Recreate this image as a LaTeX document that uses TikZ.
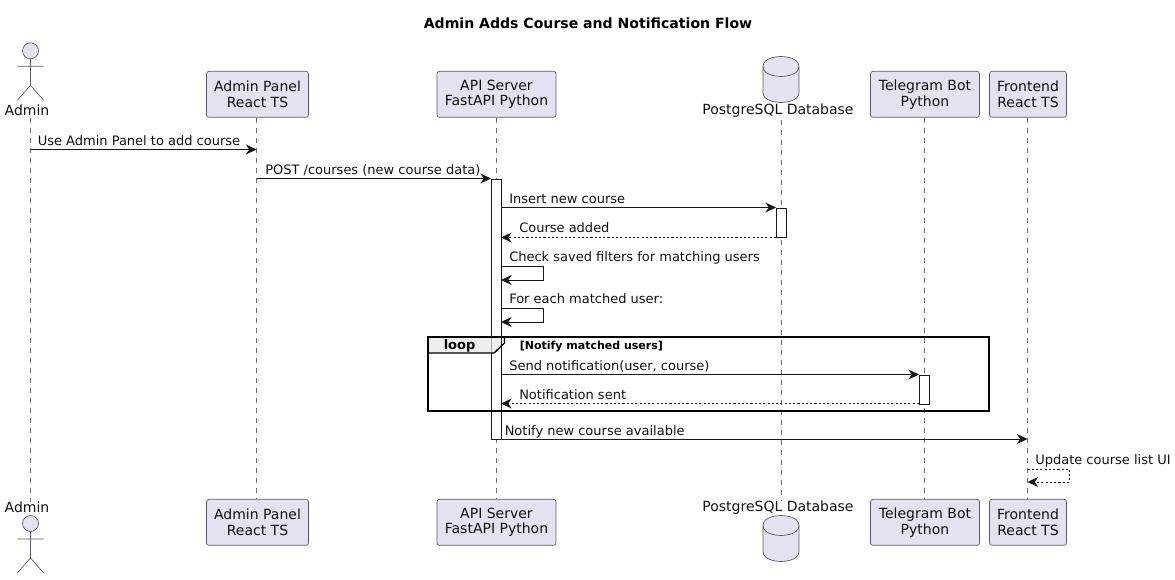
\documentclass[tikz,border=0pt]{standalone}
\usepackage{fontspec}
\setmainfont{DejaVu Sans}
\usetikzlibrary{arrows.meta}
\definecolor{pfill}{HTML}{E2E2F0}
\definecolor{pline}{HTML}{5B5B66}
\definecolor{lifec}{HTML}{6E6E78}
\definecolor{ptext}{HTML}{111111}
\definecolor{msgc}{HTML}{181818}
\definecolor{tabfill}{HTML}{EEEEEE}
\tikzset{
 x=0.75pt,y=-0.75pt,
 part/.style={draw=pline,fill=pfill,rounded corners=1.8pt,line width=0.5pt,minimum height=34.5pt,inner sep=0pt,align=center,font=\fontsize{10.5}{11.8}\selectfont,text=ptext,anchor=center},
 lbl/.style={font=\fontsize{9.75}{11.6}\selectfont,text=ptext,inner sep=0pt},
 actlbl/.style={font=\fontsize{10.5}{12}\selectfont,text=ptext,inner sep=0pt},
 msglbl/.style={lbl,anchor=base west},
 life/.style={draw=lifec,line width=0.5pt,dash pattern=on 3.75pt off 3.75pt},
 tipb/.style={-{Stealth[length=8pt,width=7.5pt,inset=2.6pt]}},
 msg/.style={tipb,draw=msgc,line width=0.75pt},
 rmsg/.style={tipb,draw=msgc,line width=0.6pt,dash pattern=on 1.6pt off 1.6pt},
 act/.style={draw=msgc,fill=white,line width=0.75pt},
 figshape/.style={draw=pline,fill=pfill,line width=0.5pt},
 frameb/.style={draw=black,line width=1.5pt},
}
\newcommand{\actorfig}[2]{% x, headY
 \draw[figshape] (#1,#2) circle[radius=6pt];
 \draw[draw=pline,line width=0.5pt] (#1,#2+8)--(#1,#2+34.5) (#1-13.2,#2+15.5)--(#1+13.2,#2+15.5) (#1-13.2,#2+49.5)--(#1,#2+34.5)--(#1+13.2,#2+49.5);
}
\newcommand{\dbfig}[2]{% x, top
 \draw[figshape] (#1-18,#2+10) .. controls (#1-18,#2) and (#1,#2) .. (#1,#2) .. controls (#1,#2) and (#1+18,#2) .. (#1+18,#2+10) -- (#1+18,#2+36) .. controls (#1+18,#2+46) and (#1,#2+46) .. (#1,#2+46) .. controls (#1,#2+46) and (#1-18,#2+46) .. (#1-18,#2+36) -- cycle;
 \draw[draw=pline,line width=0.5pt] (#1-18,#2+10) .. controls (#1-18,#2+20) and (#1,#2+20) .. (#1,#2+20) .. controls (#1,#2+20) and (#1+18,#2+20) .. (#1+18,#2+10);
}
\begin{document}
\begin{tikzpicture}
\useasboundingbox (0,0) rectangle (1175,579);
\node[font=\fontsize{10.55}{12}\selectfont\bfseries,text=black,inner sep=0pt] (title) at (588,23) {Admin Adds Course and Notification Flow};
% participants top
\node[actlbl] (admT) at (27,110.5) {Admin};
\node[part,minimum width=76.5pt] (panT) at (257.5,94.3) {Admin Panel\\React TS};
\node[part,minimum width=89.25pt] (apiT) at (496.5,94.3) {API Server\\FastAPI Python};
\node[actlbl] (dbT) at (778,110.5) {PostgreSQL Database};
\node[part,minimum width=81.75pt] (telT) at (925,94.3) {Telegram Bot\\Python};
\node[part,minimum width=57.75pt] (froT) at (1028,94.3) {Frontend\\React TS};
% participants bottom
\node[actlbl] (admB) at (27,507.5) {Admin};
\node[part,minimum width=76.5pt] (panB) at (257.5,522.3) {Admin Panel\\React TS};
\node[part,minimum width=89.25pt] (apiB) at (496.5,522.3) {API Server\\FastAPI Python};
\node[actlbl] (dbB) at (778,507.5) {PostgreSQL Database};
\node[part,minimum width=81.75pt] (telB) at (925,522.3) {Telegram Bot\\Python};
\node[part,minimum width=57.75pt] (froB) at (1028,522.3) {Frontend\\React TS};
% lifeline x reference
\coordinate (LA) at (30.5,0);
\coordinate (LP) at (256.5,0);
\coordinate (LI) at (496,0);
\coordinate (LD) at (781,0);
\coordinate (LT) at (924.5,0);
\coordinate (LF) at (1027.5,0);
\draw[life] (LA|-admT.south)++(0,2) -- (LA|-admB.north);
\draw[life] (LP|-panT.south) -- (LP|-panB.north);
\draw[life] (LI|-apiT.south) -- (LI|-apiB.north);
\draw[life] (LD|-dbT.south)++(0,2) -- (LD|-dbB.north);
\draw[life] (LT|-telT.south) -- (LT|-telB.north);
\draw[life] (LF|-froT.south) -- (LF|-froB.north);
\actorfig{30.5}{50.8}
\actorfig{30.5}{523.5}
\dbfig{781}{56.5}
\dbfig{781}{515.5}
% loop tab
\fill[tabfill] (427.5,336.5) -- (504.5,336.5) -- (504.5,343) -- (494,353) -- (427.5,353) -- cycle;
% activations
\draw[act,fill=white] (491,179) rectangle (501,439);
\fill[tabfill] (491.4,336.8) -- (500.6,336.8) -- (500.6,347) -- (494,353) -- (491.4,353) -- cycle;
\draw[act] (776,208) rectangle (786,237);
\draw[act] (919,375) rectangle (929,404);
\coordinate (apiR) at (501,0);
\coordinate (apiL) at (491,0);
\coordinate (dbL) at (776,0);
\coordinate (telL) at (919,0);
% messages
\draw[msg] (LA|-0,149.5) -- (LP|-0,149.5);
\node[msglbl] (m1) at (37.5,145.5) {Use Admin Panel to add course};
\draw[msg] (LP|-0,178.5) -- (apiL|-0,178.5);
\node[msglbl] (m2) at (265,174.5) {POST /courses (new course data)};
\draw[msg] (apiR|-0,207.5) -- (dbL|-0,207.5);
\node[msglbl] (m3) at (509,203.5) {Insert new course};
\draw[rmsg] (dbL|-0,237.5) -- (apiR|-0,237.5);
\node[msglbl] (m4) at (519,232.5) {Course added};
\draw[msg] (apiR|-0,266) -- ++(42,0) -- ++(0,14) -- (apiR|-0,280);
\node[msglbl] (m5) at (509,261.5) {Check saved filters for matching users};
\draw[msg] (apiR|-0,308.5) -- ++(42,0) -- ++(0,13.5) -- (apiR|-0,322);
\node[msglbl] (m6) at (509,303.5) {For each matched user:};
\draw[msg] (apiR|-0,374.5) -- (telL|-0,374.5);
\node[msglbl] (m7) at (509,370) {Send notification(user, course)};
\draw[rmsg] (telL|-0,403.5) -- (apiR|-0,403.5);
\node[msglbl] (m8) at (519,399) {Notification sent};
\draw[msg] (apiR|-0,439) -- (LF|-0,439);
\node[msglbl] (m9) at (504.5,435) {Notify new course available};
\draw[rmsg] (LF|-0,469) -- ++(42,0) -- ++(0,13) -- (LF|-0,482);
\node[msglbl] (m10) at (1035,464.5) {Update course list UI};
% loop frame
\draw[frameb] (427.5,336.5) rectangle (989,411);
\draw[frameb,line width=1pt] (427.5,353) -- (494,353) -- (504.5,343) -- (504.5,336.5);
\node[font=\fontsize{9.75}{11.6}\selectfont\bfseries,text=black,inner sep=0pt,anchor=base west] (looplab) at (443.5,349) {loop};
\node[font=\fontsize{8.25}{10}\selectfont\bfseries,text=black,inner sep=0pt,anchor=base west] (loopcond) at (519.5,349) {[Notify matched users]};
\end{tikzpicture}
\end{document}
